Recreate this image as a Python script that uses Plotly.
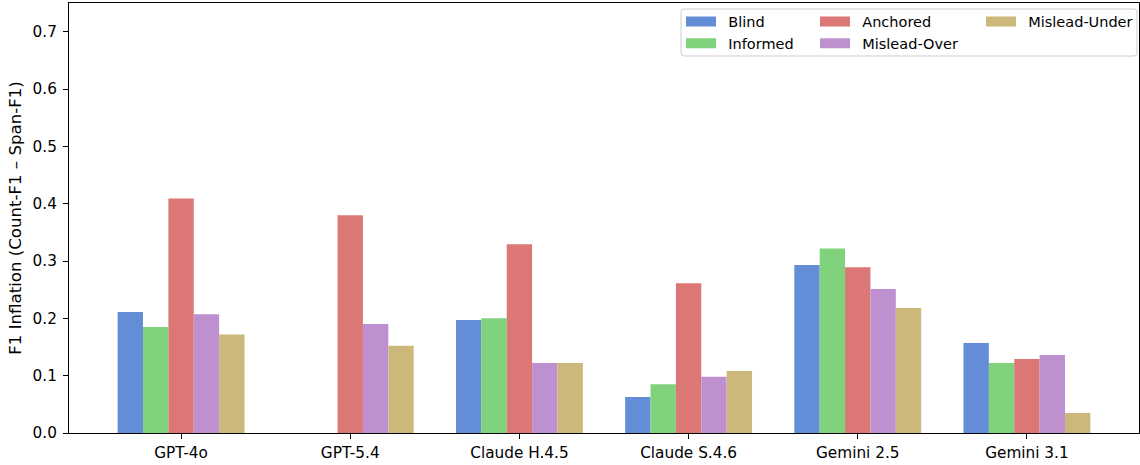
import plotly.graph_objects as go

models = ["GPT-4o", "GPT-5.4", "Claude H.4.5", "Claude S.4.6", "Gemini 2.5", "Gemini 3.1"]
blind = [0.211, None, 0.197, 0.063, 0.293, 0.157]
informed = [0.185, None, 0.200, 0.085, 0.322, 0.122]
anchored = [0.409, 0.380, 0.329, 0.261, 0.289, 0.129]
mislead_over = [0.207, 0.190, 0.122, 0.098, 0.251, 0.136]
mislead_under = [0.172, 0.152, 0.122, 0.108, 0.218, 0.035]
y_ticks = [0.0, 0.1, 0.2, 0.3, 0.4, 0.5, 0.6, 0.7]

series = [
    ("Blind", blind, "#638dd6", "legend", 1),
    ("Informed", informed, "#80d27c", "legend", 2),
    ("Anchored", anchored, "#db7775", "legend2", 1),
    ("Mislead-Over", mislead_over, "#bf90cf", "legend2", 2),
    ("Mislead-Under", mislead_under, "#cdb87c", "legend3", 1),
]

FONT = "DejaVu Sans"
FS_TICK = 15.3
FS_LEG = 14.5
FS_TITLE = 16.6
W, H = 1140, 465
L, R, T, B = 69, 1, 3, 32
PW = W - L - R
PH = H - T - B


def px(x):
    return (x - L) / PW


def py(y):
    return (H - B - y) / PH


def rounded_box(x0, y0, x1, y1, r):
    # pixel coords -> paper path with rounded corners
    pts = []
    X = lambda v: f"{px(v):.6f}"
    Y = lambda v: f"{py(v):.6f}"
    return (f"M {X(x0 + r)},{Y(y0)} L {X(x1 - r)},{Y(y0)} Q {X(x1)},{Y(y0)} {X(x1)},{Y(y0 + r)} "
            f"L {X(x1)},{Y(y1 - r)} Q {X(x1)},{Y(y1)} {X(x1 - r)},{Y(y1)} "
            f"L {X(x0 + r)},{Y(y1)} Q {X(x0)},{Y(y1)} {X(x0)},{Y(y1 - r)} "
            f"L {X(x0)},{Y(y0 + r)} Q {X(x0)},{Y(y0)} {X(x0 + r)},{Y(y0)} Z")


fig = go.Figure()
for name, vals, color, lg, rank in series:
    fig.add_trace(go.Bar(x=models, y=vals, name=name, marker=dict(color=color, line=dict(width=0)),
                         showlegend=False))
for name, vals, color, lg, rank in series:
    fig.add_trace(go.Scatter(x=[None], y=[None], mode="lines", name="\u2002" + name,
                             line=dict(color=color, width=10), legend=lg, legendrank=rank,
                             showlegend=True, hoverinfo="skip"))

legend_common = dict(
    bgcolor="rgba(0,0,0,0)", borderwidth=0, orientation="v",
    font=dict(family=FONT, size=FS_LEG, color="black"),
    xanchor="left", yanchor="top", tracegroupgap=0, itemclick=False,
)

fig.update_layout(
    width=W, height=H, autosize=False,
    margin=dict(l=L, r=R, t=T, b=B, pad=0),
    paper_bgcolor="white", plot_bgcolor="white",
    font=dict(family=FONT, size=FS_TICK, color="black"),
    barmode="group", bargap=0.25, bargroupgap=0,
    legend=dict(x=px(681), y=py(5.5), **legend_common),
    legend2=dict(x=px(815), y=py(5.5), **legend_common),
    legend3=dict(x=px(981), y=py(5.5), **legend_common),
    shapes=[dict(type="path", xref="paper", yref="paper",
                 path=rounded_box(681, 9, 1137, 56, 3),
                 line=dict(color="#cccccc", width=1), fillcolor="rgba(255,255,255,0.8)",
                 layer="above")],
    xaxis=dict(
        type="category", range=[-0.6625, 5.6625],
        showline=True, linecolor="black", linewidth=1, mirror=True,
        ticks="outside", ticklen=5, tickwidth=1, tickcolor="black",
        showgrid=False, zeroline=False, ticklabelstandoff=1,
        tickfont=dict(family=FONT, size=FS_TICK, color="black"),
    ),
    yaxis=dict(
        range=[0, 0.75], tickvals=y_ticks, tickformat=".1f",
        showline=True, linecolor="black", linewidth=1, mirror=True,
        ticks="outside", ticklen=5, tickwidth=1, tickcolor="black",
        showgrid=False, zeroline=False, ticklabelstandoff=3,
        tickfont=dict(family=FONT, size=FS_TICK, color="black"),
        title=dict(text="F1 Inflation (Count-F1 – Span-F1)", standoff=6,
                   font=dict(family=FONT, size=FS_TITLE, color="black")),
    ),
)

fig.write_html("out.html", config={"displayModeBar": False},
               post_script="document.body.style.margin='0';")
